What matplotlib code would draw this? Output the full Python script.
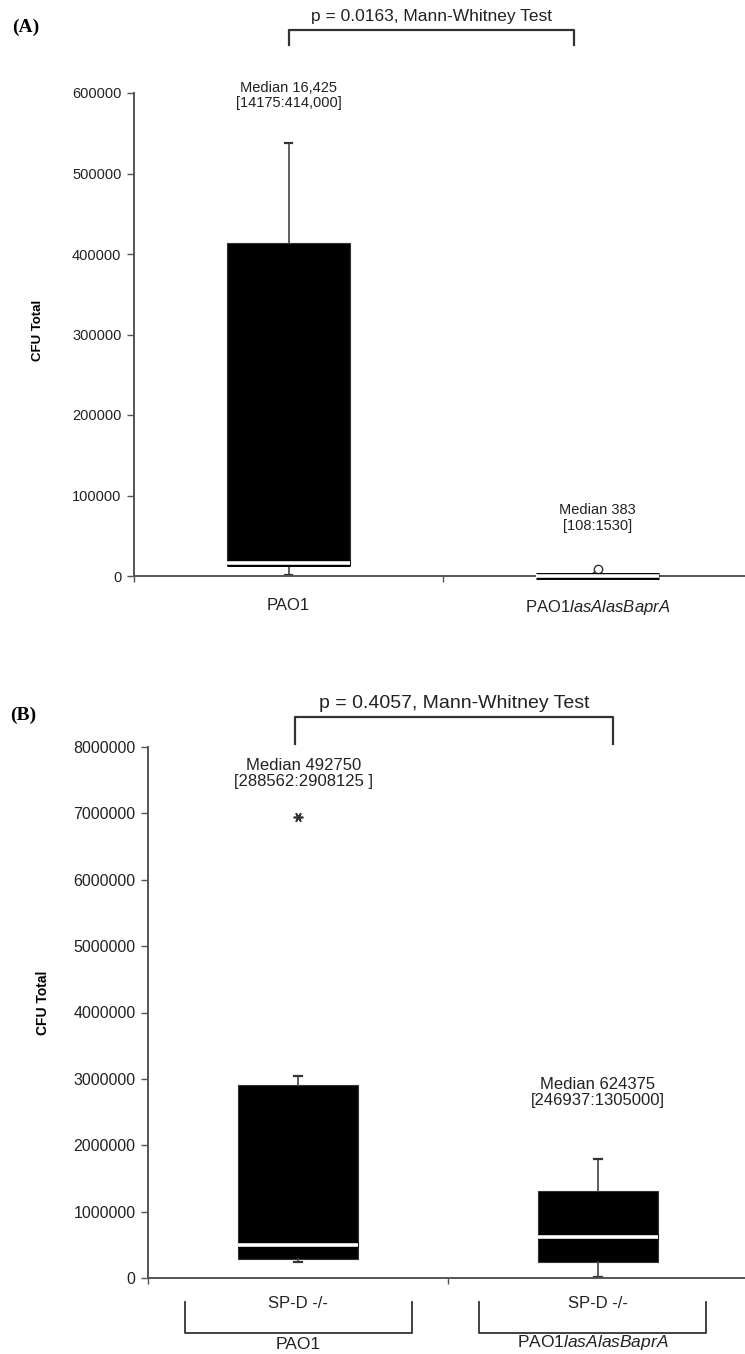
import matplotlib
matplotlib.use('Agg')
import matplotlib.pyplot as plt
import matplotlib.patheffects as pe
from matplotlib.transforms import blended_transform_factory

plt.rcParams['font.family'] = 'Liberation Sans'
plt.rcParams['mathtext.fontset'] = 'custom'
plt.rcParams['mathtext.rm'] = 'Liberation Sans'
plt.rcParams['mathtext.it'] = 'Liberation Sans:italic'

# panel A: CFU totals, PAO1 vs triple mutant
groups_a = ['PAO1', r'PAO1$\mathit{lasAlasBaprA}$']
med_a = [16425, 383]
q1_a = [14175, 108]
q3_a = [414000, 1530]
whislo_a = [1500, 0]
whishi_a = [538000, 3500]
fliers_a = [[], [8700]]
notes_a = ['Median 16,425\n[14175:414,000]', 'Median 383\n[108:1530]']
note_y_a = [597000, 72000]
ticks_a = [0, 100000, 200000, 300000, 400000, 500000, 600000]
p_a = 'p = 0.0163, Mann-Whitney Test'

# panel B: same strains in SP-D -/- mice
groups_b = ['SP-D -/-', 'SP-D -/-']
strains_b = ['PAO1', r'PAO1$\mathit{lasAlasBaprA}$']
med_b = [492750, 624375]
q1_b = [288562, 246937]
q3_b = [2908125, 1305000]
whislo_b = [240000, 10000]
whishi_b = [3050000, 1790000]
fliers_b = [[6950000], []]
notes_b = ['Median 492750\n[288562:2908125 ]', 'Median 624375\n[246937:1305000]']
note_y_b = [7600000, 2790000]
ticks_b = [0, 1000000, 2000000, 3000000, 4000000, 5000000, 6000000, 7000000, 8000000]
p_b = 'p = 0.4057, Mann-Whitney Test'

W, H = 745, 1354
fig = plt.figure(figsize=(W / 100, H / 100), dpi=100)

def px_axes(left, top, right, bottom):
    return fig.add_axes([left / W, 1 - bottom / H, (right - left) / W, (bottom - top) / H])

def make_stats(med, q1, q3, lo, hi, fl):
    return [dict(med=m, q1=a, q3=b, whislo=l, whishi=h, fliers=f)
            for m, a, b, l, h, f in zip(med, q1, q3, lo, hi, fl)]

grey = '#555555'
median_fx = [pe.Stroke(linewidth=5, foreground='black'), pe.Normal()]

def draw_panel(ax, stats, ticks, ylim, flier_props, tick_fs, label_fs, xlabels, xpad):
    parts = ax.bxp(stats, positions=[1, 2], widths=0.4, patch_artist=True,
                   boxprops=dict(facecolor='black', edgecolor='#333333', linewidth=0.8),
                   medianprops=dict(color='white', linewidth=2.6, path_effects=median_fx),
                   whiskerprops=dict(color='#444444', linewidth=1.2),
                   capprops=dict(color='#333333', linewidth=1.6),
                   capwidths=0.025, flierprops=flier_props)
    # keep the white median bars above the x axis line
    for m in parts['medians']:
        m.set_zorder(3)
        m.set_clip_on(False)
    ax.set_xlim(0.5, 2.5)
    ax.set_ylim(*ylim)
    for s in ['top', 'right']:
        ax.spines[s].set_visible(False)
    for s in ['left', 'bottom']:
        ax.spines[s].set_color(grey)
        ax.spines[s].set_linewidth(1.4)
    ax.set_yticks(ticks, labels=[str(t) for t in ticks])
    ax.tick_params(axis='y', direction='out', length=5, width=1, color=grey,
                   labelsize=tick_fs, labelcolor='#222222', pad=4)
    ax.set_xticks([0.5, 1.5, 2.5], labels=['', '', ''])
    ax.set_xticks([1, 2], labels=xlabels, minor=True)
    ax.tick_params(axis='x', which='major', direction='out', length=4, width=1, color=grey)
    ax.tick_params(axis='x', which='minor', length=0, labelsize=label_fs,
                   labelcolor='#222222', pad=xpad)

def bracket(ax, x0, x1, y_top, y_leg, text, y_text, fs):
    tr = blended_transform_factory(ax.transData, ax.transAxes)
    ax.plot([x0, x0, x1, x1], [y_leg, y_top, y_top, y_leg], color='#333333',
            lw=1.6, transform=tr, clip_on=False)
    ax.text((x0 + x1) / 2, y_text, text, transform=tr, ha='center', va='center',
            fontsize=fs, color='#222222')

# ---- (A)
ax_a = px_axes(134, 93, 752, 576)
draw_panel(ax_a, make_stats(med_a, q1_a, q3_a, whislo_a, whishi_a, fliers_a),
           ticks_a, (0, 600000),
           dict(marker='o', markersize=6, markerfacecolor='white',
                markeredgecolor='#333333', markeredgewidth=1),
           10.5, 12, groups_a, 16)
for x, note, y in zip([1, 2], notes_a, note_y_a):
    ax_a.text(x, y, note, ha='center', va='center', fontsize=10.5,
              linespacing=1.1, color='#222222')
bracket(ax_a, 1.0, 1.925, 1.130, 1.099, p_a, 1.158, 12.5)
fig.text(38 / W, 1 - 330 / H, 'CFU Total', rotation=90, ha='center', va='center',
         fontsize=9.5, fontweight='bold')
fig.text(12 / W, 1 - 27 / H, '(A)', family='Liberation Serif', fontweight='bold',
         fontsize=14, ha='left', va='center')

# ---- (B)
ax_b = px_axes(148, 747, 748, 1278)
draw_panel(ax_b, make_stats(med_b, q1_b, q3_b, whislo_b, whishi_b, fliers_b),
           ticks_b, (0, 8000000),
           dict(marker=(6, 2, 90), markersize=7, markeredgecolor='#333333',
                markeredgewidth=1.2),
           11.5, 12, groups_b, 13)
for x, note, y in zip([1.02, 2], notes_b, note_y_b):
    ax_b.text(x, y, note, ha='center', va='center', fontsize=12,
              linespacing=1.1, color='#222222')
bracket(ax_b, 0.99, 2.05, 1.0565, 1.0056, p_b, 1.082, 14)
fig.text(43 / W, 1 - 1003 / H, 'CFU Total', rotation=90, ha='center', va='center',
         fontsize=10, fontweight='bold')
fig.text(10 / W, 1 - 715 / H, '(B)', family='Liberation Serif', fontweight='bold',
         fontsize=14, ha='left', va='center')

# strain brackets under the SP-D -/- labels
for (x0, x1), name in zip([(185, 412), (479, 706)], strains_b):
    fig.lines.append(plt.Line2D([x0 / W, x0 / W, x1 / W, x1 / W],
                                [1 - 1302 / H, 1 - 1333 / H, 1 - 1333 / H, 1 - 1302 / H],
                                transform=fig.transFigure, color='#333333', lw=1.3))
    fig.text((x0 + x1) / 2 / W, 1 - 1352 / H, name, ha='center', va='bottom',
             fontsize=12.5, color='#222222')

fig.savefig('out.png', dpi=100)
